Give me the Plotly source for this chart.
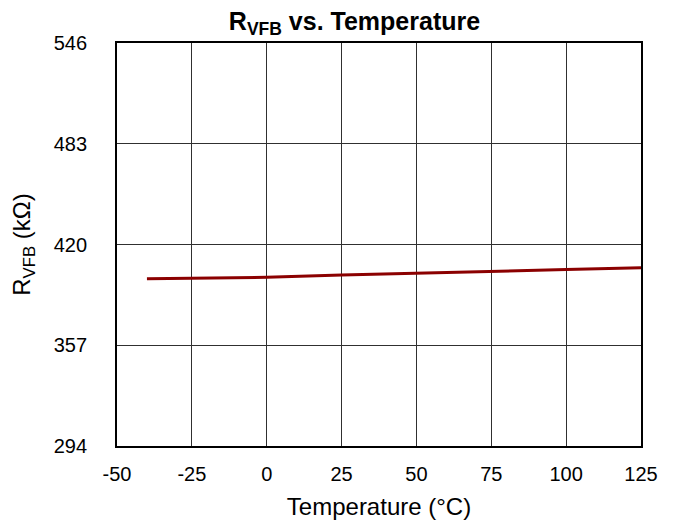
import plotly.graph_objects as go

temps = [-40, 0, 25, 50, 75, 100, 125]
r_vfb = [398.6, 399.5, 401.0, 402.0, 403.0, 404.3, 405.5]

x_ticks = [-50, -25, 0, 25, 50, 75, 100, 125]
x_labels = ["-50", "-25", "0", "25", "50", "75", "100", "125"]
y_ticks = [294, 357, 420, 483, 546]

fig = go.Figure(go.Scatter(
    x=temps, y=r_vfb, mode="lines",
    line=dict(color="#8b0000", width=3),
    showlegend=False,
))

# the page body adds an 8px margin, so the figure is a bit smaller than the window
fig.update_layout(
    width=660, height=513,
    margin=dict(l=109, r=27, t=35, b=75),
    paper_bgcolor="white", plot_bgcolor="white",
    font=dict(family="Liberation Sans, Arial, sans-serif", size=20, color="black"),
    title=dict(text="<b>R<sub>VFB</sub> vs. Temperature</b>", x=0.525, xanchor="center",
               y=0.975, yanchor="middle", font=dict(size=25)),
)
fig.update_xaxes(
    range=[-50, 125], tickvals=x_ticks, ticktext=x_labels, ticks="",
    ticklabelstandoff=9, showgrid=True, automargin=False,
    gridcolor="#303030", gridwidth=1.3, showline=True, linecolor="black",
    linewidth=1.8, mirror=True, zeroline=False,
    title=dict(text="Temperature (°C)", font=dict(size=24), standoff=14),
)
fig.update_yaxes(
    range=[294, 546], tickvals=y_ticks, ticks="",
    ticklabelstandoff=24, showgrid=True, automargin=False,
    gridcolor="#303030", gridwidth=1.3, showline=True, linecolor="black",
    linewidth=1.8, mirror=True, zeroline=False,
    title=dict(text="R<sub>VFB</sub> (kΩ)", font=dict(size=24), standoff=16),
)

fig.write_html("out.html")
